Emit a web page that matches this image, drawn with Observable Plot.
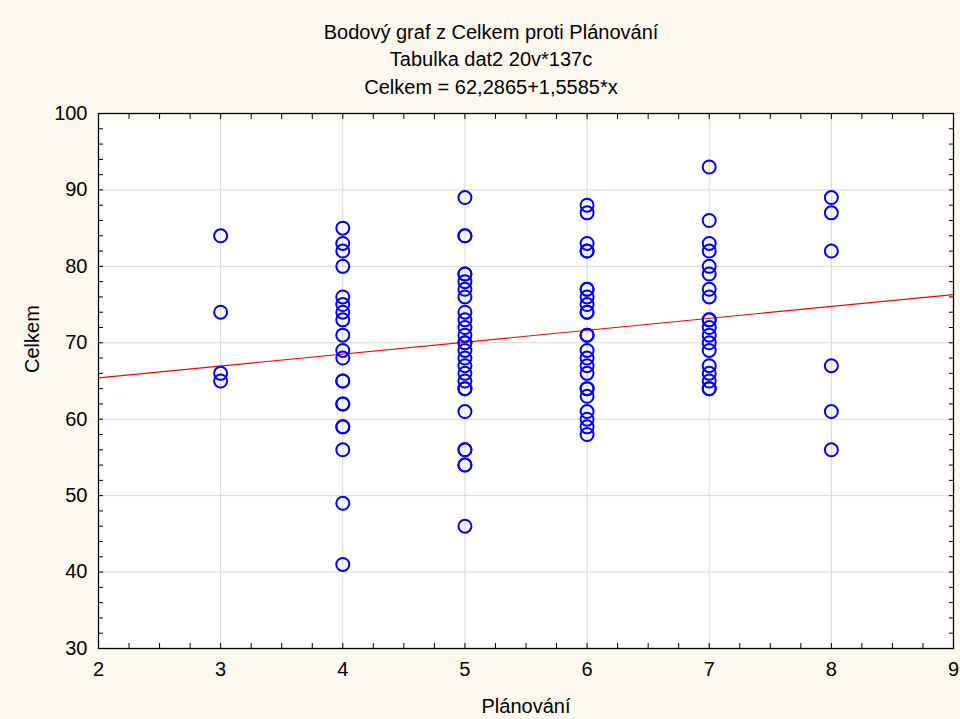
<!DOCTYPE html>
<html>
<head>
<meta charset="utf-8">
<script src="https://cdn.jsdelivr.net/npm/d3@7"></script>
<script src="https://cdn.jsdelivr.net/npm/@observablehq/plot@0.6"></script>
<style>
  html, body { margin: 0; padding: 0; background: #fdf9ee; }
  #chart svg { display: block; }
</style>
</head>
<body>
<div id="chart"></div>
<script>
// Data (Plánování = x, Celkem = y)
const celkem3 = [84, 74, 66, 65];
const celkem4 = [85, 83, 82, 80, 76, 75, 74, 73, 71, 69, 68, 65, 65, 62, 62, 59, 59, 56, 49, 41];
const celkem5 = [89, 84, 84, 79, 79, 78, 77, 76, 74, 73, 72, 71, 70, 70, 69, 68, 67, 66, 65, 64, 64, 61, 56, 56, 54, 54, 46];
const celkem6 = [88, 87, 83, 82, 82, 77, 77, 76, 75, 74, 74, 71, 71, 69, 68, 67, 66, 64, 64, 63, 61, 60, 59, 58];
const celkem7 = [93, 86, 83, 82, 80, 79, 77, 76, 73, 73, 72, 71, 70, 69, 67, 66, 65, 64, 64];
const celkem8 = [89, 87, 82, 67, 61, 56];

const xTicks = [2, 3, 4, 5, 6, 7, 8, 9];
const yTicks = [30, 40, 50, 60, 70, 80, 90, 100];

// Regression equation shown in the title: Celkem = 62,2865 + 1,5585*x
const intercept = 62.2865;
const slope = 1.5585;

const title1 = "Bodový graf z Celkem proti Plánování";
const title2 = "Tabulka dat2 20v*137c";
const title3 = "Celkem = 62,2865+1,5585*x";
const xLabel = "Plánování";
const yLabel = "Celkem";

const columns = [[3, celkem3], [4, celkem4], [5, celkem5], [6, celkem6], [7, celkem7], [8, celkem8]];
const points = columns.flatMap(([p, vals]) => vals.map(v => ({planovani: p, celkem: v})));
const fitLine = [2, 9].map(x => ({x, y: intercept + slope * x}));

const minorX = d3.range(2, 9.0001, 0.25);
const minorY = d3.range(30, 100.0001, 2);

const font = "'Liberation Sans', Arial, sans-serif";
const FS = 20;

const titleMark = (t, dy) => Plot.text([t], {
  text: d => d, frameAnchor: "top", dx: -35, dy, lineAnchor: "middle", fontSize: FS, fill: "black"
});

const chart = Plot.plot({
  width: 960,
  height: 719,
  marginLeft: 98,
  marginRight: 7,
  marginTop: 113,
  marginBottom: 71,
  x: {domain: [2, 9]},
  y: {domain: [30, 100]},
  style: {background: "#fdf9ee", fontFamily: font, fontSize: FS + "px", color: "black", overflow: "visible"},
  marks: [
    Plot.frame({fill: "white", stroke: null}),
    Plot.gridX({ticks: xTicks, stroke: "#d9d9d9", strokeOpacity: 1}),
    Plot.gridY({ticks: yTicks, stroke: "#d9d9d9", strokeOpacity: 1}),
    // inward minor/major ticks on all four sides
    Plot.axisX({anchor: "bottom", ticks: minorX, tickSize: -5, tickFormat: () => "", label: null, stroke: "black"}),
    Plot.axisX({anchor: "top", ticks: minorX, tickSize: -5, tickFormat: () => "", label: null, stroke: "black"}),
    Plot.axisY({anchor: "left", ticks: minorY, tickSize: -5, tickFormat: () => "", label: null, stroke: "black"}),
    Plot.axisY({anchor: "right", ticks: minorY, tickSize: -5, tickFormat: () => "", label: null, stroke: "black"}),
    // tick labels
    Plot.axisX({anchor: "bottom", ticks: xTicks, tickFormat: d => String(d), tickSize: 0, tickPadding: 13, label: null, fontSize: FS}),
    Plot.axisY({anchor: "left", ticks: yTicks, tickFormat: d => String(d), tickSize: 0, tickPadding: 11, label: null, fontSize: FS}),
    // regression line
    Plot.line(fitLine, {x: "x", y: "y", stroke: "#ff0000", strokeWidth: 1.2}),
    // data points
    Plot.dot(points, {x: "planovani", y: "celkem", r: 6.5, stroke: "#0000ff", strokeWidth: 2, fill: "none"}),
    Plot.frame({stroke: "black", strokeWidth: 1.3}),
    // titles
    titleMark(title1, -81),
    titleMark(title2, -54),
    titleMark(title3, -26),
    Plot.text([xLabel], {text: d => d, frameAnchor: "bottom", dy: 58, lineAnchor: "middle", fontSize: FS, fill: "black"}),
    Plot.text([yLabel], {text: d => d, frameAnchor: "left", dx: -66, dy: -8, rotate: -90, lineAnchor: "middle", fontSize: FS, fill: "black"})
  ]
});

document.getElementById("chart").appendChild(chart);
</script>
</body>
</html>
